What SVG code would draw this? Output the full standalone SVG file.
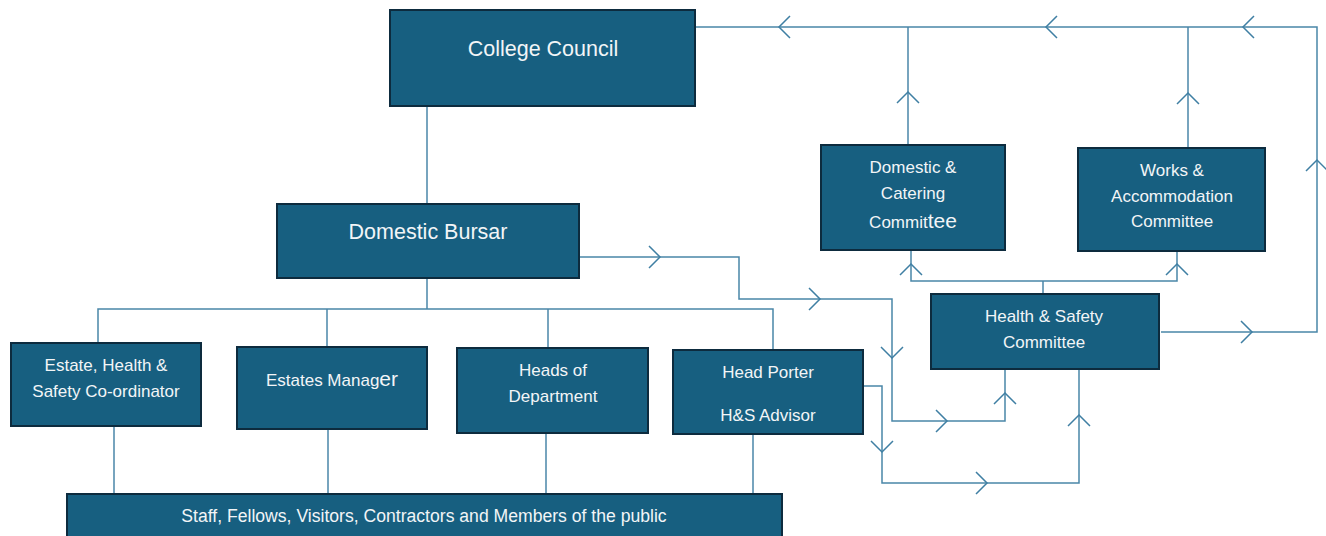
<svg xmlns="http://www.w3.org/2000/svg" xmlns:xlink="http://www.w3.org/1999/xlink" width="1326" height="536" viewBox="0 0 1326 536">
  <style>
    .box { fill: #175F80; stroke: #0D2B3E; stroke-width: 2; }
    .lbl { fill: #F2F5F7; font-family: "Liberation Sans", Arial, sans-serif; font-size: 17px; text-anchor: middle; }
    .big { font-size: 21.5px; }
    .wide { font-size: 21px; }
    .ln { fill: none; stroke: #4A86A8; stroke-width: 1.5; }
    .chev { fill: none; stroke: #3F7FA3; stroke-width: 1.5; }
  </style>
  <defs>
    <!-- open chevron, tip at origin, pointing along +x -->
    <path id="chev" class="chev" d="M-11,-11 L0,0 L-11,11"/>
  </defs>

  <rect width="1326" height="536" fill="#FFFFFF"/>

  <g id="connectors">
    <path class="ln" d="M427,106 V204"/>
    <path class="ln" d="M695,27 H1317 V332 H1161"/>
    <path class="ln" d="M908,145 V27"/>
    <path class="ln" d="M1188,148 V27"/>
    <path class="ln" d="M911,251 V281 H1177 V252"/>
    <path class="ln" d="M1043,294 V281"/>
    <path class="ln" d="M427,278 V309"/>
    <path class="ln" d="M98,343 V309 H773 V350"/>
    <path class="ln" d="M327,309 V347"/>
    <path class="ln" d="M548,309 V348"/>
    <path class="ln" d="M114,426 V494"/>
    <path class="ln" d="M328,429 V494"/>
    <path class="ln" d="M546,433 V494"/>
    <path class="ln" d="M753,434 V494"/>
    <path class="ln" d="M579,257 H739 V299 H892 V421 H1005 V369"/>
    <path class="ln" d="M863,386 H882 V483 H1079 V369"/>

    <!-- arrowheads -->
    <use xlink:href="#chev" transform="translate(779,27) rotate(180)"/>
    <use xlink:href="#chev" transform="translate(1046,27) rotate(180)"/>
    <use xlink:href="#chev" transform="translate(1243,27) rotate(180)"/>
    <use xlink:href="#chev" transform="translate(908,92) rotate(-90)"/>
    <use xlink:href="#chev" transform="translate(1188,93) rotate(-90)"/>
    <use xlink:href="#chev" transform="translate(1317,160) rotate(-90)"/>
    <use xlink:href="#chev" transform="translate(1252,332)"/>
    <use xlink:href="#chev" transform="translate(911,264) rotate(-90)"/>
    <use xlink:href="#chev" transform="translate(1177,264) rotate(-90)"/>
    <use xlink:href="#chev" transform="translate(660,257)"/>
    <use xlink:href="#chev" transform="translate(820,299)"/>
    <use xlink:href="#chev" transform="translate(892,358) rotate(90)"/>
    <use xlink:href="#chev" transform="translate(947,421)"/>
    <use xlink:href="#chev" transform="translate(1005,393) rotate(-90)"/>
    <use xlink:href="#chev" transform="translate(882,452) rotate(90)"/>
    <use xlink:href="#chev" transform="translate(987,483)"/>
    <use xlink:href="#chev" transform="translate(1079,415) rotate(-90)"/>
  </g>

  <g id="college-council">
    <rect class="box" x="390" y="10" width="305" height="96"/>
    <text class="lbl big" x="543" y="56">College Council</text>
  </g>

  <g id="domestic-bursar">
    <rect class="box" x="277" y="204" width="302" height="74"/>
    <text class="lbl big" x="428" y="239">Domestic Bursar</text>
  </g>

  <g id="domestic-catering-committee">
    <rect class="box" x="821" y="145" width="184" height="105"/>
    <text class="lbl" x="913" y="173">Domestic &amp;</text>
    <text class="lbl" x="913" y="199">Catering</text>
    <text class="lbl" x="913" y="228">Commit<tspan class="wide">tee</tspan></text>
  </g>

  <g id="works-accommodation-committee">
    <rect class="box" x="1078" y="148" width="187" height="103"/>
    <text class="lbl" x="1172" y="176">Works &amp;</text>
    <text class="lbl" x="1172" y="202">Accommodation</text>
    <text class="lbl" x="1172" y="227">Committee</text>
  </g>

  <g id="health-safety-committee">
    <rect class="box" x="931" y="294" width="228" height="75"/>
    <text class="lbl" x="1044" y="322">Health &amp; Safety</text>
    <text class="lbl" x="1044" y="348">Committee</text>
  </g>

  <g id="estate-hs-coordinator">
    <rect class="box" x="11" y="343" width="190" height="83"/>
    <text class="lbl" x="106" y="371">Estate, Health &amp;</text>
    <text class="lbl" x="106" y="397">Safety Co-ordinator</text>
  </g>

  <g id="estates-manager">
    <rect class="box" x="237" y="347" width="190" height="82"/>
    <text class="lbl" x="332" y="386">Estates Manag<tspan class="wide">er</tspan></text>
  </g>

  <g id="heads-of-department">
    <rect class="box" x="457" y="348" width="191" height="85"/>
    <text class="lbl" x="553" y="376">Heads of</text>
    <text class="lbl" x="553" y="402">Department</text>
  </g>

  <g id="head-porter">
    <rect class="box" x="673" y="350" width="190" height="84"/>
    <text class="lbl" x="768" y="378">Head Porter</text>
    <text class="lbl" x="768" y="421">H&amp;S Advisor</text>
  </g>

  <g id="staff-and-public">
    <rect class="box" x="67" y="494" width="715" height="50"/>
    <text class="lbl" x="424" y="522" style="font-size:17.6px">Staff, Fellows, Visitors, Contractors and Members of the public</text>
  </g>
</svg>
